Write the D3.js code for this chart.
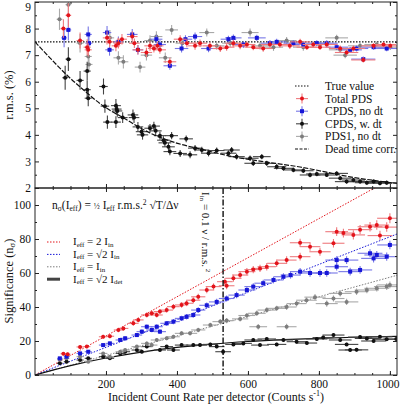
<!DOCTYPE html>
<html>
<head>
<meta charset="utf-8">
<script src="https://cdn.jsdelivr.net/npm/d3@7"></script>
<style>
  body { margin: 0; background: #fff; }
  text { font-family: "Liberation Serif", "Times New Roman", serif; fill: #111; }
</style>
</head>
<body>
<svg id="chart" width="400" height="404"></svg>
<script>
// ---- data (rate, value, x-error, y-error) ----
const topRed = [[80,8.0,8,0.35],[94,8.5,8,0.45],[127,7.55,10,0.3],[147,7.3,10,0.3],[150,7.2,10,0.25],[203,7.65,12,0.25],[210,7.5,12,0.2],[228,7.35,12,0.2],[235,7.45,14,0.2],[245,7.6,14,0.2],[274,7.7,15,0.2],[280,7.45,15,0.18],[290,7.2,15,0.18],[314,7.1,16,0.18],[324,7.35,16,0.18],[335,7.25,17,0.15],[345,7.35,17,0.15],[352,7.2,17,0.15],[380,6.75,18,0.15],[409,7.6,18,0.15],[428,7.45,19,0.15],[451,7.35,20,0.15],[465,7.45,20,0.14],[493,7.35,21,0.14],[522,7.25,22,0.13],[540,7.3,22,0.13],[559,7.45,23,0.13],[578,7.35,23,0.13],[597,7.4,24,0.12],[615,7.3,25,0.12],[643,7.25,26,0.12],[662,7.4,26,0.12],[690,7.4,27,0.12],[718,7.35,28,0.12],[747,7.5,29,0.12],[766,7.3,29,0.11],[784,7.4,30,0.11],[803,7.3,30,0.11],[822,7.4,31,0.11],[860,7.25,32,0.11],[878,7.1,33,0.11],[897,7.25,33,0.11],[925,6.82,34,0.1],[954,7.35,35,0.1],[982,7.4,35,0.1],[1001,7.35,36,0.1]];
const topBlue = [[82,7.65,8,0.35],[94,7.95,8,0.4],[150,7.78,10,0.3],[152,7.45,10,0.3],[203,7.85,12,0.25],[210,7.2,12,0.22],[235,7.5,14,0.2],[274,7.78,15,0.2],[290,7.2,15,0.18],[342,7.6,17,0.16],[352,7.4,17,0.16],[380,6.6,18,0.15],[413,7.25,19,0.15],[424,7.6,19,0.15],[451,7.7,20,0.15],[489,7.25,21,0.14],[545,7.6,22,0.13],[559,7.65,23,0.13],[587,7.4,24,0.13],[625,7.65,25,0.12],[662,7.45,26,0.12],[681,7.5,27,0.12],[728,7.45,28,0.12],[756,7.4,29,0.11],[794,7.45,30,0.11],[822,7.45,31,0.11],[850,7.3,32,0.11],[888,7.2,33,0.11],[906,7.25,33,0.11],[925,6.85,34,0.1],[954,7.3,35,0.1],[991,7.25,36,0.1]];
const topGrey = [[69,8.35,8,0.4],[94,8.9,8,0.5],[127,7.45,10,0.35],[150,6.95,10,0.35],[152,6.65,10,0.3],[211,7.65,12,0.3],[235,6.9,14,0.25],[249,6.75,14,0.25],[296,6.55,15,0.2],[314,7.0,16,0.2],[324,7.55,16,0.2],[342,7.7,17,0.2],[367,6.9,18,0.2],[385,7.95,18,0.18],[415,7.45,19,0.18],[484,7.85,21,0.15],[512,7.35,22,0.15],[550,7.45,23,0.15],[606,7.85,24,0.15],[634,7.35,25,0.14],[672,7.3,27,0.14],[709,7.55,28,0.13],[756,7.3,29,0.13],[803,7.4,30,0.12],[850,7.65,32,0.12],[860,7.2,32,0.12],[874,7.0,33,0.12],[916,7.35,34,0.12],[963,7.4,35,0.11],[1001,7.3,36,0.11]];
const topBlack = [[85,6.15,8,0.45],[94,6.85,8,0.45],[127,6.05,10,0.35],[147,6.4,10,0.35],[147,5.7,10,0.35],[150,5.38,10,0.3],[193,5.82,12,0.3],[197,5.08,12,0.25],[204,4.48,12,0.25],[228,5.1,14,0.25],[230,4.97,14,0.22],[232,4.9,14,0.22],[228,4.48,14,0.22],[247,4.65,14,0.2],[276,4.75,15,0.2],[279,4.65,15,0.2],[290,4.3,15,0.18],[300,4.12,16,0.18],[303,4.0,16,0.18],[324,4.25,16,0.16],[335,4.33,17,0.16],[340,4.15,17,0.16],[352,3.97,17,0.15],[362,3.8,18,0.15],[366,3.7,18,0.15],[376,3.55,18,0.14],[385,3.97,18,0.14],[380,3.37,18,0.14],[409,3.3,19,0.13],[426,3.85,19,0.13],[437,3.25,20,0.13],[451,3.5,20,0.12],[470,3.43,21,0.12],[489,3.31,21,0.12],[512,3.41,22,0.11],[545,3.31,22,0.11],[554,3.43,23,0.11],[568,3.18,23,0.11],[606,3.12,24,0.1],[615,2.93,25,0.1],[639,3.18,25,0.1],[653,2.93,26,0.1],[681,2.8,27,0.1],[700,2.74,27,0.09],[728,2.68,28,0.09],[756,2.65,29,0.09],[775,2.49,29,0.09],[794,2.53,30,0.09],[822,2.49,31,0.08],[850,2.55,32,0.08],[860,2.37,32,0.08],[878,2.24,33,0.08],[897,2.3,33,0.08],[916,2.24,34,0.08],[935,2.2,34,0.08],[954,2.24,35,0.08],[972,2.18,35,0.08],[991,2.2,36,0.08]];
const trueValue = 7.5;
const deadTime = [[0,7.5],[42,6.9],[89,6.26],[136,5.7],[192,5.09],[249,4.64],[324,4.07],[399,3.69],[465,3.47],[550,3.2],[650,2.98],[747,2.79],[888,2.42],[1020,2.17]];

const botRed = [[80,12.5,8,1],[92,12.2,8,1],[127,16.5,10,1],[146,16.7,10,1],[192,22.5,12,1.2],[211,22.8,12,1.2],[235,26.5,13,1.3],[249,27.4,14,1.3],[277,30.4,15,1.4],[291,32.4,15,1.4],[315,35.3,16,1.5],[329,36.3,16,1.5],[343,35.3,17,1.5],[352,37.3,17,1.5],[371,38.2,18,1.6],[390,40.2,18,1.6],[413,41.2,19,1.7],[427,42.2,19,1.7],[446,44,20,1.8],[460,46,20,1.8],[484,50,21,1.9],[503,52,22,1.9],[535,54.9,22,2],[540,52.5,22,2],[559,56.9,23,2],[578,58.8,23,2],[597,60.8,24,2.1],[615,62,25,2.1],[634,62.7,25,2.1],[653,63.7,26,2.2],[681,65.7,27,2.2],[709,67.6,28,2.3],[747,69.6,29,2.3],[747,77.8,29,2.4],[775,75.5,29,2.4],[803,72.5,30,2.4],[841,77.5,31,2.5],[850,84.3,32,2.6],[869,83.5,32,2.6],[897,82.4,33,2.7],[916,85.5,34,2.7],[944,87.2,35,2.8],[963,88.2,35,2.8],[972,82,35,2.8],[991,87,36,2.8],[1000,92.2,36,2.9]];
const botBlue = [[70,9.8,8,0.8],[89,10.8,8,0.8],[127,12.7,10,0.9],[150,13.7,10,1],[192,17.6,12,1],[211,18.6,12,1.1],[240,20.6,13,1.1],[254,21.6,14,1.2],[287,23.5,15,1.2],[301,25.5,15,1.3],[315,28.4,16,1.3],[329,26.5,16,1.3],[343,28.4,17,1.4],[352,25.5,17,1.4],[371,30.4,18,1.4],[390,31.4,18,1.5],[413,33.3,19,1.5],[427,34.3,19,1.6],[446,35.3,20,1.6],[460,38.2,20,1.7],[484,41,21,1.7],[512,43,22,1.8],[540,45,22,1.8],[568,47,23,1.9],[597,50,24,1.9],[615,52,25,2],[643,54,25,2],[672,55.9,27,2],[700,57.8,27,2.1],[720,58.8,28,2.1],[747,60.8,29,2.2],[775,60,29,2.2],[803,60,30,2.2],[822,60,31,2.2],[850,63.7,32,2.3],[850,67.6,32,2.3],[878,67.6,33,2.3],[888,60.8,33,2.3],[916,61.8,34,2.3],[944,71.6,35,2.4],[954,68.6,35,2.4],[963,70.6,35,2.4],[991,69.6,36,2.4],[1000,76.5,36,2.5]];
const botGrey = [[70,9,8,0.7],[89,9.8,8,0.7],[127,10.8,10,0.8],[150,7.8,10,0.8],[192,12.7,12,0.9],[211,10.8,12,0.9],[240,13.7,13,1],[254,14.7,14,1],[287,16.7,15,1],[315,18.6,16,1.1],[329,17.6,16,1.1],[343,20.6,17,1.1],[371,21.6,18,1.2],[390,22.5,18,1.2],[413,24.5,19,1.3],[437,24.5,20,1.3],[460,26.5,20,1.3],[494,29.4,21,1.4],[522,31.4,22,1.4],[540,32,22,1.5],[578,33,23,1.5],[597,35,24,1.5],[625,36.3,25,1.6],[629,28.4,25,1.6],[653,38.2,26,1.6],[681,39.2,27,1.6],[709,40,28,1.7],[709,28.4,28,1.7],[737,42,28,1.7],[765,44,29,1.7],[789,45.8,30,1.8],[822,42,31,1.8],[841,45,31,1.8],[860,48,32,1.8],[878,43,33,1.8],[906,49,33,1.9],[935,50,34,1.9],[963,51,35,1.9],[991,52,36,2],[1000,53,36,2]];
const botBlack = [[70,6.9,8,0.6],[89,7.8,8,0.6],[127,8.8,10,0.7],[150,9.8,10,0.7],[192,10.8,12,0.8],[211,9.8,12,0.8],[240,12.7,13,0.8],[254,13.7,14,0.9],[287,14.7,15,0.9],[301,13.7,15,0.9],[315,16.7,16,0.9],[352,14.7,17,1],[371,16.7,18,1],[390,14.7,18,1],[413,17.6,19,1],[446,17.6,20,1],[465,17.6,20,1],[494,18,21,1],[512,16.7,22,1],[530,13.7,22,1],[559,18,23,1],[587,18.6,24,1],[615,20.6,25,1],[634,17.6,25,1],[653,21.2,26,1],[681,18,27,1],[700,20.6,27,1],[737,19.6,28,1],[766,18.8,29,1],[794,21.2,30,1],[812,22,30,1],[841,23.5,31,1],[860,20.6,32,1],[878,18,33,1],[888,14.7,33,1],[906,14.8,33,1],[916,22.3,34,1],[935,21.5,34,1],[954,20,35,1],[972,22.5,35,1],[991,21,36,1],[1018,21.2,36,1]];
// slopes of the three dotted reference lines (significance per count s^-1)
const refSlopes = [0.115, 0.0813, 0.0575];
const detCurve = [[0,0],[100,5.5],[200,10],[300,13.5],[400,16.2],[500,18.2],[600,19.7],[700,20.8],[800,21.6],[900,22.2],[1020,22.7]];
const markerRate = 530;

const xTicks = [200, 400, 600, 800, 1000];
const topTicks = [2, 3, 4, 5, 6, 7, 8, 9];
const botTicks = [0, 20, 40, 60, 80, 100];

// ---- layout ----
const svg = d3.select("#chart");
const left = 35, right = 397;
const topY0 = 2, midY = 188, botY1 = 375;

const x = d3.scaleLinear().domain([0, 1020]).range([left, right]);
const yTop = d3.scaleLinear().domain([2, 9]).range([midY, topY0]);
const yBot = d3.scaleLinear().domain([0, 110]).range([botY1, midY]);

const defs = svg.append("defs");
defs.append("clipPath").attr("id", "clipTop").append("rect")
  .attr("x", left).attr("y", topY0).attr("width", right - left).attr("height", midY - topY0);
defs.append("clipPath").attr("id", "clipBot").append("rect")
  .attr("x", left).attr("y", midY).attr("width", right - left).attr("height", botY1 - midY);

// axes with inward ticks
function drawAxes(y, y0, y1, majors, minors, showXLabels) {
  const g = svg.append("g");
  const ax = (axis, tx, ty) => g.append("g").attr("transform", `translate(${tx},${ty})`).call(axis)
    .call(s => s.select(".domain").remove());
  const xb = ax(d3.axisBottom(x).tickValues(xTicks).tickSize(-4).tickPadding(5)
      .tickFormat(showXLabels ? d3.format("d") : ""), 0, y0);
  ax(d3.axisBottom(x).tickValues(d3.range(50, 1020, 50)).tickSize(-2).tickFormat(""), 0, y0);
  ax(d3.axisTop(x).tickValues(xTicks).tickSize(-4).tickFormat(""), 0, y1);
  ax(d3.axisTop(x).tickValues(d3.range(50, 1020, 50)).tickSize(-2).tickFormat(""), 0, y1);
  const yl = ax(d3.axisLeft(y).tickValues(majors).tickSize(-4).tickPadding(4).tickFormat(d3.format("d")), left, 0);
  ax(d3.axisLeft(y).tickValues(minors).tickSize(-2).tickFormat(""), left, 0);
  ax(d3.axisRight(y).tickValues(majors).tickSize(-4).tickFormat(""), right, 0);
  ax(d3.axisRight(y).tickValues(minors).tickSize(-2).tickFormat(""), right, 0);
  g.selectAll(".tick line").attr("stroke", "#222");
  g.selectAll(".tick text").style("font-size", "11.5px").attr("fill", "#111")
    .style("font-family", "'Liberation Serif', serif");
  // keep edge labels inside the picture
  yl.selectAll(".tick text").filter(d => y(d) < 6).attr("dy", "0.75em");
  xb.selectAll(".tick text").filter(d => x(d) > 385).attr("text-anchor", "end").attr("x", 9);
  g.append("rect").attr("x", left).attr("y", y1).attr("width", right - left).attr("height", y0 - y1)
    .attr("fill", "none").attr("stroke", "#222").attr("stroke-width", 1);
}

// error bars + markers
function drawSeries(panel, y, data, col, barCol, shape) {
  const g = panel.append("g");
  g.selectAll("line.h").data(data).join("line")
    .attr("x1", d => x(d[0] - d[2])).attr("x2", d => x(d[0] + d[2]))
    .attr("y1", d => y(d[1])).attr("y2", d => y(d[1]))
    .attr("stroke", barCol).attr("stroke-width", 1.1);
  g.selectAll("line.v").data(data).join("line")
    .attr("x1", d => x(d[0])).attr("x2", d => x(d[0]))
    .attr("y1", d => y(d[1] - d[3])).attr("y2", d => y(d[1] + d[3]))
    .attr("stroke", barCol).attr("stroke-width", 1.1);
  if (shape === "square") {
    g.selectAll("rect").data(data).join("rect")
      .attr("x", d => x(d[0]) - 2).attr("y", d => y(d[1]) - 2)
      .attr("width", 4).attr("height", 4).attr("fill", col);
  } else {
    g.selectAll("circle").data(data).join("circle")
      .attr("cx", d => x(d[0])).attr("cy", d => y(d[1])).attr("r", 2).attr("fill", col);
  }
}

const RED = "#e3141b", BLUE = "#1717d8", GREY = "#7d7d7d", BLACK = "#111";

// ---- top panel ----
const pTop = svg.append("g").attr("clip-path", "url(#clipTop)");
pTop.append("line").attr("x1", x(0)).attr("x2", x(1020))
  .attr("y1", yTop(trueValue)).attr("y2", yTop(trueValue))
  .attr("stroke", "#111").attr("stroke-width", 1.3).attr("stroke-dasharray", "1.5,1.5");
drawSeries(pTop, yTop, topGrey, GREY, "#a9a9a9", "circle");
drawSeries(pTop, yTop, topBlack, BLACK, "#444", "circle");
drawSeries(pTop, yTop, topBlue, BLUE, "#7676e6", "square");
drawSeries(pTop, yTop, topRed, RED, "#ee7a7e", "circle");
pTop.append("path").datum(deadTime)
  .attr("d", d3.line().x(d => x(d[0])).y(d => yTop(d[1])).curve(d3.curveMonotoneX))
  .attr("fill", "none").attr("stroke", "#111").attr("stroke-width", 1.2).attr("stroke-dasharray", "5,1.5");

drawAxes(yTop, midY, topY0, topTicks, d3.range(2.5, 9, 1), false);

// top legend
const legTop = [
  { label: "True value", type: "dot" },
  { label: "Total PDS", type: "pt", col: RED, bar: "#ee7a7e" },
  { label: "CPDS, no dt", type: "pt", col: BLUE, bar: "#7676e6", sq: true },
  { label: "CPDS, w. dt", type: "pt", col: BLACK, bar: "#444" },
  { label: "PDS1, no dt", type: "pt", col: GREY, bar: "#a9a9a9" },
  { label: "Dead time corr.", type: "dash" }
];
const lt = svg.append("g");
legTop.forEach((d, i) => {
  const cy = 86 + i * 12.6, cx = 302;
  if (d.type === "dot" || d.type === "dash") {
    lt.append("line").attr("x1", cx - 7).attr("x2", cx + 7).attr("y1", cy).attr("y2", cy)
      .attr("stroke", "#111").attr("stroke-width", 1.2)
      .attr("stroke-dasharray", d.type === "dot" ? "1.5,1.5" : "3,1.5");
  } else {
    lt.append("line").attr("x1", cx - 6).attr("x2", cx + 6).attr("y1", cy).attr("y2", cy)
      .attr("stroke", d.bar).attr("stroke-width", 1.1);
    lt.append("line").attr("x1", cx).attr("x2", cx).attr("y1", cy - 5).attr("y2", cy + 5)
      .attr("stroke", d.bar).attr("stroke-width", 1.1);
    if (d.sq) lt.append("rect").attr("x", cx - 2).attr("y", cy - 2).attr("width", 4).attr("height", 4).attr("fill", d.col);
    else lt.append("circle").attr("cx", cx).attr("cy", cy).attr("r", 2).attr("fill", d.col);
  }
  lt.append("text").attr("x", 325).attr("y", cy).attr("dy", "0.35em")
    .style("font-size", "11.5px").text(d.label);
});

// ---- bottom panel ----
const pBot = svg.append("g").attr("clip-path", "url(#clipBot)");
const refCols = [RED, BLUE, GREY];
refSlopes.forEach((s, i) => {
  pBot.append("line").attr("x1", x(0)).attr("y1", yBot(0))
    .attr("x2", x(1020)).attr("y2", yBot(s * 1020))
    .attr("stroke", refCols[i]).attr("stroke-width", 1).attr("stroke-dasharray", "1.5,1.5");
});
pBot.append("path").datum(detCurve)
  .attr("d", d3.line().x(d => x(d[0])).y(d => yBot(d[1])).curve(d3.curveMonotoneX))
  .attr("fill", "none").attr("stroke", "#111").attr("stroke-width", 1.2);
drawSeries(pBot, yBot, botBlack, BLACK, "#444", "circle");
drawSeries(pBot, yBot, botGrey, GREY, "#a9a9a9", "circle");
drawSeries(pBot, yBot, botBlue, BLUE, "#7676e6", "square");
drawSeries(pBot, yBot, botRed, RED, "#ee7a7e", "circle");
pBot.append("line").attr("x1", x(markerRate)).attr("x2", x(markerRate))
  .attr("y1", midY).attr("y2", botY1)
  .attr("stroke", "#111").attr("stroke-width", 1.4).attr("stroke-dasharray", "6,2,1.5,2");

drawAxes(yBot, botY1, midY, botTicks, d3.range(10, 110, 10), true);

// rotated label next to marker line
const rl = svg.append("text").attr("transform", `translate(${x(markerRate) - 21},192) rotate(90)`)
  .style("font-size", "11px");
rl.append("tspan").text("I");
rl.append("tspan").attr("dy", 2).style("font-size", "7px").text("in");
rl.append("tspan").attr("dy", -2).text(" = 0.1 ν / r.m.s.");
rl.append("tspan").attr("dy", -4).style("font-size", "7px").text(" 2");

// formula
const fm = svg.append("text").attr("x", 52).attr("y", 209).style("font-size", "11.5px");
fm.append("tspan").text("n");
fm.append("tspan").attr("dy", 2).style("font-size", "7.5px").text("σ");
fm.append("tspan").attr("dy", -2).text("(I");
fm.append("tspan").attr("dy", 2).style("font-size", "7.5px").text("eff");
fm.append("tspan").attr("dy", -2).text(") = ");
fm.append("tspan").style("font-size", "8px").text("½");
fm.append("tspan").text(" I");
fm.append("tspan").attr("dy", 2).style("font-size", "7.5px").text("eff");
fm.append("tspan").attr("dy", -2).text(" r.m.s.");
fm.append("tspan").attr("dy", -4).style("font-size", "7.5px").text("2");
fm.append("tspan").attr("dy", 4).text(" √T/Δν");

// bottom legend
const legBot = [
  { col: RED, dash: "1.5,1.5", w: 1, pre: "2 I", sub: "in" },
  { col: BLUE, dash: "1.5,1.5", w: 1, pre: "√2 I", sub: "in" },
  { col: GREY, dash: "1.5,1.5", w: 1, pre: " I", sub: "in" },
  { col: "#444", dash: null, w: 3, pre: "√2 I", sub: "det" }
];
const lb = svg.append("g");
legBot.forEach((d, i) => {
  const cy = 242 + i * 12.4;
  lb.append("line").attr("x1", 47).attr("x2", 60).attr("y1", cy).attr("y2", cy)
    .attr("stroke", d.col).attr("stroke-width", d.w).attr("stroke-dasharray", d.dash);
  const t = lb.append("text").attr("x", 73).attr("y", cy).attr("dy", "0.3em").style("font-size", "11px");
  t.append("tspan").text("I");
  t.append("tspan").attr("dy", 1.5).style("font-size", "7px").text("eff");
  t.append("tspan").attr("dy", -1.5).text(" = " + d.pre);
  t.append("tspan").attr("dy", 1.5).style("font-size", "7px").text(d.sub);
});

// axis titles
const xt = svg.append("text").attr("x", 216).attr("y", 401).attr("text-anchor", "middle")
  .style("font-size", "12px");
xt.append("tspan").text("Incident Count Rate per detector (Counts s");
xt.append("tspan").attr("dy", -5).style("font-size", "8px").text("-1");
xt.append("tspan").attr("dy", 5).text(")");

svg.append("text").attr("transform", `translate(13,95) rotate(-90)`).attr("text-anchor", "middle")
  .style("font-size", "12.5px").text("r.m.s. (%)");
const yt = svg.append("text").attr("transform", `translate(13,281) rotate(-90)`).attr("text-anchor", "middle")
  .style("font-size", "12.5px");
yt.append("tspan").text("Significance (n");
yt.append("tspan").attr("dy", 2).style("font-size", "8.5px").text("σ");
yt.append("tspan").attr("dy", -2).text(")");
</script>
</body>
</html>
